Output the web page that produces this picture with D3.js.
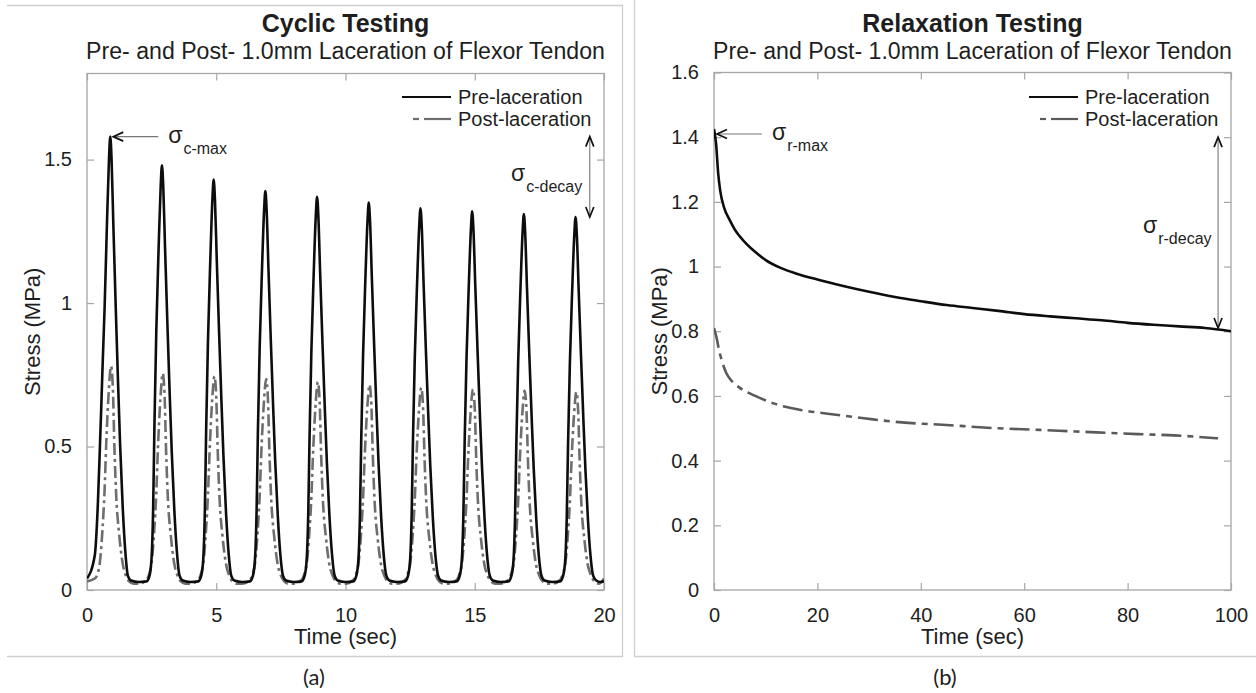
<!DOCTYPE html>
<html><head><meta charset="utf-8">
<script src="https://cdn.jsdelivr.net/npm/d3@7"></script>
<style>
body{margin:0;background:#fff}
svg{display:block}
text{font-family:"Liberation Sans",Arial,sans-serif;fill:#1e1e1e}
</style>
</head><body>
<svg id="c" width="1256" height="693"></svg>
<script>
// ---------------- DATA ----------------
const cyclicXTicks = [0, 5, 10, 15, 20];
const cyclicYTicks = [0, 0.5, 1, 1.5];
const relaxXTicks = [0, 20, 40, 60, 80, 100];
const relaxYTicks = [0, 0.2, 0.4, 0.6, 0.8, 1, 1.2, 1.4, 1.6];
const seriesNames = ["Pre-laceration", "Post-laceration"];

// cyclic test: each 2 s cycle sampled at these offsets (sec) from its start
const cycleStart = [0, 2, 4, 6, 8, 10, 12, 14, 16, 18];
const preOffsets = [0.0,0.3,0.42,0.5,0.56,0.61,0.68,0.77,0.85,0.9,0.95,1.02,1.11,1.2,1.28,1.38,1.48,1.58,1.7];
const preCycles = [
 [0.04,0.12,0.3,0.5,0.66,0.80,0.98,1.27,1.50,1.58,1.502,1.27,0.990,0.726,0.509,0.292,0.137,0.05,0.033],
 [0.028,0.03,0.05,0.115,0.289,0.580,0.899,1.190,1.407,1.48,1.407,1.190,0.928,0.681,0.478,0.275,0.130,0.05,0.033],
 [0.028,0.03,0.05,0.112,0.280,0.561,0.869,1.150,1.360,1.43,1.360,1.150,0.897,0.659,0.463,0.266,0.126,0.05,0.033],
 [0.028,0.03,0.05,0.110,0.273,0.546,0.845,1.118,1.322,1.39,1.322,1.118,0.872,0.641,0.450,0.260,0.123,0.05,0.033],
 [0.028,0.03,0.05,0.109,0.270,0.538,0.833,1.102,1.303,1.37,1.303,1.102,0.860,0.632,0.444,0.256,0.122,0.05,0.033],
 [0.028,0.03,0.05,0.107,0.266,0.530,0.821,1.086,1.284,1.35,1.284,1.086,0.848,0.623,0.438,0.253,0.121,0.05,0.033],
 [0.028,0.03,0.05,0.106,0.262,0.523,0.809,1.070,1.265,1.33,1.265,1.070,0.835,0.614,0.432,0.249,0.119,0.05,0.033],
 [0.028,0.03,0.05,0.106,0.261,0.519,0.803,1.062,1.255,1.32,1.255,1.062,0.829,0.609,0.429,0.248,0.118,0.05,0.033],
 [0.028,0.03,0.05,0.105,0.259,0.515,0.797,1.054,1.246,1.31,1.246,1.054,0.823,0.605,0.425,0.246,0.118,0.05,0.033],
 [0.028,0.03,0.05,0.104,0.257,0.511,0.791,1.046,1.236,1.30,1.236,1.046,0.817,0.600,0.422,0.244,0.117,0.05,0.033]
];
const preTailTime = [19.85, 20];
const preTailStress = [0.028, 0.03];

const postOffsets = [0.0,0.3,0.42,0.5,0.6,0.68,0.74,0.84,0.93,1.0,1.06,1.12,1.25,1.37,1.5,1.63,1.8];
const postCycles = [
 [0.03,0.04,0.06,0.098,0.212,0.348,0.500,0.689,0.78,0.704,0.500,0.348,0.189,0.098,0.05,0.03,0.022],
 [0.022,0.035,0.06,0.095,0.205,0.337,0.484,0.667,0.755,0.682,0.484,0.337,0.183,0.095,0.05,0.03,0.022],
 [0.022,0.035,0.06,0.094,0.203,0.333,0.477,0.658,0.745,0.673,0.477,0.333,0.181,0.094,0.05,0.03,0.022],
 [0.022,0.035,0.06,0.093,0.200,0.329,0.471,0.649,0.735,0.664,0.471,0.329,0.179,0.093,0.05,0.03,0.022],
 [0.022,0.035,0.06,0.092,0.198,0.324,0.465,0.641,0.725,0.655,0.465,0.324,0.177,0.092,0.05,0.03,0.022],
 [0.022,0.035,0.06,0.091,0.195,0.320,0.459,0.632,0.715,0.646,0.459,0.320,0.174,0.091,0.05,0.03,0.022],
 [0.022,0.035,0.06,0.090,0.193,0.316,0.452,0.623,0.705,0.637,0.452,0.316,0.172,0.090,0.05,0.03,0.022],
 [0.022,0.035,0.06,0.090,0.192,0.314,0.449,0.619,0.70,0.632,0.449,0.314,0.171,0.090,0.05,0.03,0.022],
 [0.022,0.035,0.06,0.089,0.190,0.311,0.446,0.614,0.695,0.628,0.446,0.311,0.170,0.089,0.05,0.03,0.022],
 [0.022,0.035,0.06,0.089,0.189,0.309,0.443,0.610,0.69,0.623,0.443,0.309,0.169,0.089,0.05,0.03,0.022]
];
const postTailTime = [20];
const postTailStress = [0.04];

// relaxation test
const relaxPreTime = [0,0.4,0.8,1.2,2,3,4,6,8,10,13,16,20,25,30,35,40,45,50,55,60,65,70,75,80,85,90,95,100];
const relaxPreStress = [1.425,1.38,1.29,1.235,1.18,1.145,1.115,1.075,1.045,1.02,0.995,0.978,0.96,0.94,0.922,0.906,0.893,0.881,0.872,0.863,0.853,0.846,0.84,0.834,0.826,0.82,0.815,0.81,0.80];
const relaxPostTime = [0,0.5,1,1.5,2.4,3.5,5,8,11.5,17,22,29,35,45,55,63,70,76,82,89,97.5];
const relaxPostStress = [0.81,0.78,0.74,0.71,0.67,0.645,0.625,0.60,0.577,0.556,0.545,0.531,0.52,0.51,0.50,0.495,0.49,0.486,0.482,0.478,0.469];

// annotation levels (MPa) and times (sec)
const cyclicMaxPoint = [0.9, 1.58];
const cyclicDecayRange = [1.58, 1.30];
const cyclicDecayTime = 19.45;
const relaxMaxPoint = [0, 1.41];
const relaxDecayRange = [1.40, 0.81];
const relaxDecayTime = 97.5;

// ---------------- BUILD ----------------
function buildSeries(starts, offsets, cycles, tailT, tailV) {
  const pts = [];
  starts.forEach((s, i) => offsets.forEach((o, j) => pts.push([s + o, cycles[i][j]])));
  tailT.forEach((t, i) => pts.push([t, tailV[i]]));
  return pts;
}
const cyclicPre = buildSeries(cycleStart, preOffsets, preCycles, preTailTime, preTailStress);
const cyclicPost = buildSeries(cycleStart, postOffsets, postCycles, postTailTime, postTailStress);
const relaxPre = relaxPreTime.map((t, i) => [t, relaxPreStress[i]]);
const relaxPost = relaxPostTime.map((t, i) => [t, relaxPostStress[i]]);

const svg = d3.select("#c");
const FRAME = "#cfcfcf", AXIS = "#a6a6a6";

// panel frames
svg.append("path").attr("d", "M7,5.5H622.5V656.5H7").attr("fill", "none").attr("stroke", FRAME).attr("stroke-width", 1.3);
svg.append("path").attr("d", "M634.5,0V656.5H1256").attr("fill", "none").attr("stroke", FRAME).attr("stroke-width", 1.3);

function panel(o) {
  const g = svg.append("g");
  const x = d3.scaleLinear().domain(o.xDomain).range([o.left, o.right]);
  const y = d3.scaleLinear().domain(o.yDomain).range([o.bottom, o.top]);
  const fmt = d => String(d);

  const axes = [
    [d3.axisBottom(x).tickValues(o.xTicks).tickFormat(fmt).tickPadding(18), `translate(0,${o.bottom})`],
    [d3.axisLeft(y).tickValues(o.yTicks).tickFormat(fmt).tickPadding(15), `translate(${o.left},0)`],
    [d3.axisTop(x).tickValues(o.xTicks).tickFormat(""), `translate(0,${o.top})`],
    [d3.axisRight(y).tickValues(o.yTicks).tickFormat(""), `translate(${o.right},0)`]
  ];
  axes.forEach(([ax, tr]) => {
    const a = g.append("g").attr("transform", tr)
      .call(ax.tickSizeInner(-7).tickSizeOuter(0));
    a.select(".domain").remove();
    a.selectAll(".tick line").attr("stroke", AXIS).attr("stroke-width", 1.2);
    a.selectAll(".tick text").attr("font-size", 20).attr("fill", "#1e1e1e")
      .style("font-family", '"Liberation Sans",Arial,sans-serif');
  });
  g.append("rect").attr("x", o.left).attr("y", o.top)
    .attr("width", o.right - o.left).attr("height", o.bottom - o.top)
    .attr("fill", "none").attr("stroke", AXIS).attr("stroke-width", 1.3);

  const line = d3.line().x(d => x(d[0])).y(d => y(d[1])).curve(d3.curveMonotoneX);
  const clipId = "clip" + o.id;
  svg.append("clipPath").attr("id", clipId).append("rect")
    .attr("x", o.left).attr("y", o.top).attr("width", o.right - o.left).attr("height", o.bottom - o.top);
  g.append("path").datum(o.post).attr("d", line).attr("fill", "none")
    .attr("stroke", o.postColor).attr("stroke-width", 2.6).attr("stroke-dasharray", o.dash)
    .attr("clip-path", `url(#${clipId})`);
  g.append("path").datum(o.pre).attr("d", line).attr("fill", "none")
    .attr("stroke", "#0d0d0d").attr("stroke-width", 2.6).attr("stroke-linejoin", "round")
    .attr("clip-path", `url(#${clipId})`);

  const cx = (o.left + o.right) / 2;
  g.append("text").attr("x", cx).attr("y", 32).attr("text-anchor", "middle")
    .attr("font-size", 25).attr("font-weight", "bold").text(o.title);
  const sub = g.append("text").attr("x", cx).attr("y", 59).attr("text-anchor", "middle")
    .attr("font-size", 22.7).text("Pre- and Post- 1.0mm Laceration of Flexor Tendon");
  const w = sub.node().getComputedTextLength();
  sub.attr("font-size", 22.7 * (o.right - o.left + 2) / w);

  g.append("text").attr("x", cx).attr("y", 644).attr("text-anchor", "middle")
    .attr("font-size", 22).text("Time (sec)");
  g.append("text").attr("transform", `translate(${o.left - 47},${(o.top + o.bottom) / 2}) rotate(-90)`)
    .attr("text-anchor", "middle").attr("font-size", 22).text("Stress (MPa)");

  // legend
  const lx = o.legendX;
  g.append("line").attr("x1", lx).attr("x2", lx + 49).attr("y1", 97).attr("y2", 97)
    .attr("stroke", "#0d0d0d").attr("stroke-width", 2.2);
  g.append("line").attr("x1", lx + 11).attr("x2", lx + 17).attr("y1", 119).attr("y2", 119)
    .attr("stroke", o.postColor).attr("stroke-width", 2.2);
  g.append("line").attr("x1", lx + 22).attr("x2", lx + 49).attr("y1", 119).attr("y2", 119)
    .attr("stroke", o.postColor).attr("stroke-width", 2.2);
  g.append("text").attr("x", lx + 56).attr("y", 104).attr("font-size", 20).text(seriesNames[0]);
  g.append("text").attr("x", lx + 56).attr("y", 126).attr("font-size", 20).text(seriesNames[1]);

  // annotations
  const ARW = "#111", LN = "#777";
  const tipX = x(o.maxPoint[0]) + 3, tipY = y(o.maxPoint[1]);
  g.append("line").attr("x1", tipX).attr("x2", tipX + 45).attr("y1", tipY).attr("y2", tipY)
    .attr("stroke", LN).attr("stroke-width", 1.1);
  g.append("path").attr("d", `M${tipX + 10},${tipY - 4.5}L${tipX},${tipY}L${tipX + 10},${tipY + 4.5}`)
    .attr("fill", "none").attr("stroke", ARW).attr("stroke-width", 1.7);
  const sm = g.append("text").attr("x", tipX + 55).attr("y", tipY + 6).attr("font-size", 23);
  sm.append("tspan").text("σ");
  sm.append("tspan").attr("font-size", 16).attr("dy", 11).attr("dx", 1).text(o.maxSub);

  const dx = x(o.decayTime), dy1 = y(o.decayRange[0]), dy2 = y(o.decayRange[1]);
  g.append("line").attr("x1", dx).attr("x2", dx).attr("y1", dy1).attr("y2", dy2)
    .attr("stroke", LN).attr("stroke-width", 1.1);
  g.append("path").attr("d", `M${dx - 4},${dy1 + 10}L${dx},${dy1}L${dx + 4},${dy1 + 10}`)
    .attr("fill", "none").attr("stroke", ARW).attr("stroke-width", 1.7);
  g.append("path").attr("d", `M${dx - 4},${dy2 - 10}L${dx},${dy2}L${dx + 4},${dy2 - 10}`)
    .attr("fill", "none").attr("stroke", ARW).attr("stroke-width", 1.7);
  const sd = g.append("text").attr("x", o.decayLabelX).attr("y", o.decayLabelY).attr("font-size", 23);
  sd.append("tspan").text("σ");
  sd.append("tspan").attr("font-size", 16).attr("dy", 11).attr("dx", 1).text(o.decaySub);

  g.append("text").attr("x", o.tagX).attr("y", 685).attr("text-anchor", "middle")
    .attr("font-size", 22).style("font-family", "Lato, 'Open Sans', sans-serif").text(o.tag);
}

panel({
  id: "a", left: 87, right: 604, top: 73.5, bottom: 590,
  xDomain: [0, 20], yDomain: [0, 1.8], xTicks: cyclicXTicks, yTicks: cyclicYTicks,
  pre: cyclicPre, post: cyclicPost, postColor: "#6e6e6e", dash: "12,4,3,4",
  title: "Cyclic Testing", legendX: 402,
  maxPoint: cyclicMaxPoint, maxSub: "c-max",
  decayTime: cyclicDecayTime, decayRange: cyclicDecayRange, decaySub: "c-decay",
  decayLabelX: 511, decayLabelY: 181, tagX: 314, tag: "(a)"
});
panel({
  id: "b", left: 714, right: 1231, top: 72.5, bottom: 590,
  xDomain: [0, 100], yDomain: [0, 1.6], xTicks: relaxXTicks, yTicks: relaxYTicks,
  pre: relaxPre, post: relaxPost, postColor: "#5a5a5a", dash: "20,6,6,6",
  title: "Relaxation Testing", legendX: 1029,
  maxPoint: relaxMaxPoint, maxSub: "r-max",
  decayTime: relaxDecayTime, decayRange: relaxDecayRange, decaySub: "r-decay",
  decayLabelX: 1143, decayLabelY: 233, tagX: 945, tag: "(b)"
});
</script>
</body></html>
